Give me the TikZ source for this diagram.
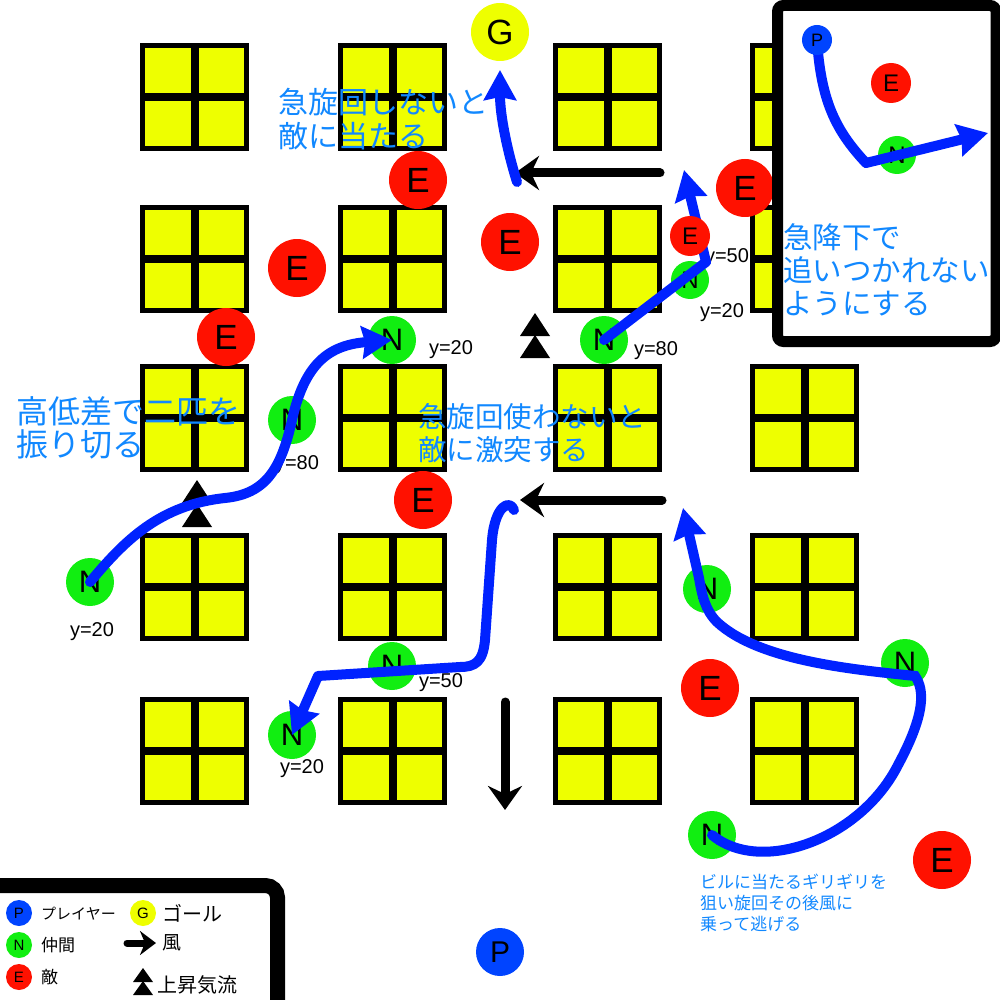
\documentclass[tikz,border=0pt]{standalone}
\usepackage{fontspec}
\setmainfont{Liberation Sans}
\newfontfamily\jp{Noto Sans CJK JP}
\usetikzlibrary{arrows.meta}
\definecolor{bldgyellow}{RGB}{238,255,0}
\definecolor{foered}{RGB}{255,17,0}
\definecolor{allygreen}{RGB}{17,238,17}
\definecolor{playerblue}{RGB}{0,68,255}
\definecolor{routeblue}{RGB}{0,34,255}
\definecolor{notetext}{RGB}{17,136,255}
\tikzset{
  bldg/.style={fill=bldgyellow, draw=black, line width=5pt},
  foe/.style={circle, fill=foered, inner sep=0pt, minimum size=58pt, font=\fontsize{35}{35}\selectfont},
  ally/.style={circle, fill=allygreen, inner sep=0pt, minimum size=48pt, font=\fontsize{31}{31}\selectfont},
  player/.style={circle, fill=playerblue, inner sep=0pt, minimum size=48pt, font=\fontsize{30}{30}\selectfont},
  goal/.style={circle, fill=bldgyellow, inner sep=0pt, minimum size=58pt, font=\fontsize{35}{35}\selectfont},
  alt/.style={inner sep=0pt, font=\fontsize{20}{20}\selectfont},
  note/.style={anchor=west, align=left, inner sep=0pt, text=notetext, font=\jp\fontsize{30}{34}\selectfont},
  legtext/.style={anchor=west, inner sep=0pt, font=\jp\fontsize{17}{17}\selectfont},
  route/.style={draw=routeblue, line width=10pt, line cap=round, -{Stealth[inset=3pt,length=30pt,width=32pt]}},
  wind/.style={line width=9pt, line cap=round, -{Stealth[inset=8pt,length=24pt,width=34pt]}}
}
\begin{document}
\begin{tikzpicture}[x=1pt,y=-1pt]
\useasboundingbox (0,0) rectangle (1000,1000);

% buildings
\foreach \bx in {140,338,553,750}
  \foreach \by in {43,205,364,533,697} {
    \draw[bldg] (\bx+2.5,\by+2.5) rectangle (\bx+106.5,\by+105.5);
    \draw[line width=8pt] (\bx+54.5,\by+2.5) -- (\bx+54.5,\by+105.5);
    \draw[line width=8pt] (\bx+2.5,\by+54) -- (\bx+106.5,\by+54);
  }

% updrafts
\fill (535,313) -- (550,336) -- (520,336) -- cycle;
\fill (535,335) -- (550,358) -- (520,358) -- cycle;
\fill (197,480) -- (212,503) -- (182,503) -- cycle;
\fill (197,504) -- (212,527) -- (182,527) -- cycle;

% wind
\draw[wind] (660,173) -- (515,173);
\draw[wind] (662,500) -- (520,500);
\draw[wind] (505,702) -- (505,810);

% goal, foes, allies
\node[goal] (g) at (500,32) {G};
\node[foe] (e1) at (418,180) {E};
\node[foe] (e2) at (297,268) {E};
\node[foe] (e3) at (226,337) {E};
\node[foe] (e4) at (510,242) {E};
\node[foe] (e5) at (745,188) {E};
\node[foe] (e6) at (423,500) {E};
\node[foe] (e7) at (710,688) {E};
\node[foe] (e8) at (942,860) {E};

\node[ally] (n1) at (392,340) {N};
\node[ally] (n2) at (604,340) {N};
\node[ally] (n3) at (292,420) {N};
\node[ally] (n4) at (90,582) {N};
\node[ally, minimum size=38pt, font=\fontsize{24}{24}\selectfont] (n5) at (690,280) {N};
\node[ally] (n6) at (707,589) {N};
\node[ally] (n7) at (905,663) {N};
\node[ally] (n8) at (712,835) {N};
\node[ally] (n9) at (392,666) {N};
\node[ally] (n10) at (292,735) {N};

\node[player] (p1) at (500,952) {P};

% heights
\node[alt] (h1) at (451,350) {y=20};
\node[alt] (h2) at (297,465) {y=80};
\node[alt] (h3) at (656,351) {y=80};
\node[alt] (h4) at (727,258) {y=50};
\node[alt] (h5) at (722,313) {y=20};
\node[alt] (h6) at (92,632) {y=20};
\node[alt] (h7) at (441,683) {y=50};
\node[alt] (h8) at (302,769) {y=20};

% notes
\node[note] (t1) at (278,119) {急旋回しないと\\敵に当たる};
\node[note, font=\jp\fontsize{32}{33}\selectfont] (t2) at (16,428) {高低差で二匹を\\振り切る};
\node[note, font=\jp\fontsize{28.5}{33}\selectfont] (t3) at (418,433) {急旋回使わないと\\敵に激突する};
\node[note, font=\jp\fontsize{17}{21}\selectfont] (t5) at (700,903) {ビルに当たるギリギリを\\狙い旋回その後風に\\乗って逃げる};

% routes
\coordinate (r3s) at (517,182);
\coordinate (r3e) at (500,70);
\coordinate (r4s) at (514,510);
\coordinate (r2c) at (706,262);
\coordinate (r2e) at (684,170);
\coordinate (r5e) at (683,508);
\draw[route] (n4.center) .. controls (125,540) and (160,505) .. (225,498)
  .. controls (265,494) and (281,470) .. (292,420)
  .. controls (305,362) and (330,345) .. (n1.center);
\draw[route, line join=round] (n2.center) -- (r2c) -- (r2e);
\draw[route] (r3s) .. controls (507,150) and (500,115) .. (r3e);
\draw[route, line join=round] (r4s) .. controls (510,499) and (495,505) .. (492,540)
  -- (485,640) .. controls (483,662) and (475,667) .. (460,667)
  -- (318,676) -- (n10.center);
\draw[route] (n8.center) .. controls (760,875) and (860,840) .. (898,765)
  .. controls (925,715) and (925,690) .. (915,676)
  .. controls (860,670) and (760,662) .. (717,622)
  .. controls (705,610) and (702,595) .. (699,578) -- (r5e);
\node[foe, minimum size=40pt, font=\fontsize{24}{24}\selectfont] (e9) at (690,236) {E};

% inset
\filldraw[fill=white, line width=11pt, rounded corners=6pt] (777.5,5.5) rectangle (996,341.5);
\coordinate (p2) at (817,40);
\node[foe, minimum size=40pt, font=\fontsize{24}{24}\selectfont] (e10) at (891,83) {E};
\node[ally, minimum size=38pt, font=\fontsize{24}{24}\selectfont] (n11) at (897,155) {N};
\coordinate (r6c) at (866,163);
\coordinate (r6e) at (988,133);
\draw[route, line join=round] (p2) .. controls (821,100) and (835,130) .. (r6c) -- (r6e);
\node[player, minimum size=30pt, font=\fontsize{18}{18}\selectfont] (p2n) at (p2) {P};
\node[note, font=\jp\fontsize{29.5}{33}\selectfont] (t4) at (783,270) {急降下で\\追いつかれない\\ようにする};

% legend
\filldraw[fill=white, line width=15pt, rounded corners=12pt] (-20,885.5) rectangle (277.5,1030);
\node[player, minimum size=26pt, font=\fontsize{15}{15}\selectfont] (lp) at (19,913) {P};
\node[ally, minimum size=26pt, font=\fontsize{15}{15}\selectfont] (ln) at (19,945) {N};
\node[foe, minimum size=26pt, font=\fontsize{15}{15}\selectfont] (le) at (19,977) {E};
\node[goal, minimum size=26pt, font=\fontsize{15}{15}\selectfont] (lg) at (143,913) {G};
\node[legtext, font=\jp\fontsize{15}{15}\selectfont] at (41,914) {プレイヤー};
\node[legtext] at (41,945) {仲間};
\node[legtext] at (41,977) {敵};
\node[legtext, font=\jp\fontsize{20}{20}\selectfont] at (162,913) {ゴール};
\node[legtext, font=\jp\fontsize{19}{19}\selectfont] at (162,943) {風};
\node[legtext, font=\jp\fontsize{20}{20}\selectfont] at (157,985) {上昇気流};
\draw[line width=7pt, line cap=round, -{Stealth[inset=5pt,length=16pt,width=24pt]}] (127,943) -- (156,943);
\fill (143,968) -- (153,982) -- (133,982) -- cycle;
\fill (143,981) -- (153,995) -- (133,995) -- cycle;
\end{tikzpicture}
\end{document}
